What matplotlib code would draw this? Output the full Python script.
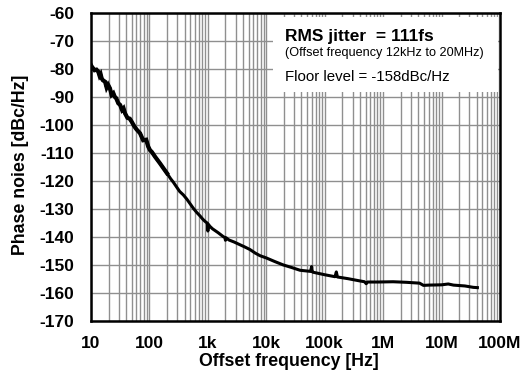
import numpy as np
import matplotlib.pyplot as plt
from matplotlib.ticker import FixedLocator, NullFormatter
from matplotlib.patches import Rectangle

plt.rcParams['font.family'] = ['Liberation Sans', 'DejaVu Sans']

freq = [10, 10.3, 11.5, 12.4, 13.3, 14.0, 14.6, 15.2, 16.0, 17.4, 18.5, 19.6,
        21.1, 22.5, 24.1, 25.5, 27.0, 29.3, 31.5, 34.0, 36.0, 38.2, 42.0,
        46.0, 49.7, 55.0, 60.0, 69.0, 78.0, 88.0, 95.0, 102, 110, 125, 151,
        175, 200, 230, 257, 292, 330, 380, 436, 494, 560, 640, 733, 820, 900,
        980, 1000, 1020, 1080, 1200, 1500, 1835, 1950, 2000, 2050, 2300,
        2800, 3550, 4300, 5250, 6500, 7810, 10000, 14000, 19500, 27000,
        37800, 57000, 59800, 61000, 63000, 100000, 150000, 158000, 165000,
        250000, 398000, 480000, 513000, 540000, 800000, 1480000, 2500000,
        4200000, 4900000, 6000000, 10000000, 13000000, 16000000, 25000000,
        34900000, 41000000]
noise = [-78.8, -79.3, -80.6, -80.4, -81.1, -82.6, -82.0, -83.5, -84.2, -84.7,
         -86.8, -85.8, -87.1, -89.4, -88.8, -90.1, -90.6, -92.4, -93.0, -94.8,
         -94.2, -96.0, -97.6, -97.9, -99.0, -100.6, -101.7, -103.1, -105.6,
         -105.4, -107.8, -109.1, -109.8, -111.5, -113.8, -115.7, -117.4,
         -119.3, -120.6, -122.3, -123.9, -125.1, -126.6, -128.2, -129.8,
         -131.3, -132.6, -133.8, -134.6, -135.2, -138.0, -135.6, -136.3,
         -137.2, -138.6, -140.0, -140.3, -141.3, -140.4, -141.2, -141.9,
         -142.9, -143.7, -144.6, -145.9, -146.8, -147.6, -148.9, -150.1,
         -151.0, -152.0, -152.4, -150.7, -152.5, -152.7, -153.6, -154.3,
         -152.6, -154.4, -155.0, -155.8, -156.1, -156.8, -156.2, -156.2,
         -156.1, -156.3, -156.6, -157.4, -157.3, -157.2, -156.9, -157.3,
         -157.6, -158.1, -158.2]
noisy_until = 200  # Hz, the band where the trace is visibly thicker

xticks = [10, 1e2, 1e3, 1e4, 1e5, 1e6, 1e7, 1e8]
xticklabels = ['10', '100', '1k', '10k', '100k', '1M', '10M', '100M']
yticks = list(range(-170, -59, 10))

fig = plt.figure(figsize=(5.21, 3.86), dpi=100)
ax = fig.add_axes([0.1747, 0.1692, 0.785, 0.7984])

ax.plot(freq, noise, color='black', linewidth=2.2, solid_joinstyle='round',
        zorder=4)
n_noisy = sum(f <= noisy_until for f in freq)
ax.plot(freq[:n_noisy], noise[:n_noisy], color='black', linewidth=3.0,
        solid_joinstyle='miter', zorder=4)

ax.set_xscale('log')
ax.set_xlim(10, 1e8)
ax.set_ylim(-170, -60)

minor = [m * 10 ** d for d in range(1, 8) for m in range(2, 10)]
ax.xaxis.set_major_locator(FixedLocator(xticks))
ax.xaxis.set_minor_locator(FixedLocator(minor))
ax.xaxis.set_minor_formatter(NullFormatter())
ax.set_xticklabels(xticklabels)
ax.set_yticks(yticks)
ax.set_yticklabels([str(v) for v in yticks])

ax.grid(True, which='both', axis='x', color='#8f8f8f', linewidth=1.0)
ax.grid(True, which='major', axis='y', color='#8f8f8f', linewidth=1.0)
ax.set_axisbelow(True)

ax.tick_params(which='both', length=0)
ax.tick_params(axis='x', pad=11, labelsize=12.5)
ax.tick_params(axis='y', pad=12, labelsize=12.5)
for lab in ax.get_xticklabels() + ax.get_yticklabels():
    lab.set_fontweight('bold')

for sp in ax.spines.values():
    sp.set_linewidth(1.8)
    sp.set_zorder(5)

# white box behind the annotation text
ax.add_patch(Rectangle((0.445, 0.742), 0.55, 0.243, transform=ax.transAxes,
                       facecolor='white', edgecolor='none', zorder=2))
ax.text(0.474, 0.9215, 'RMS jitter  = 111fs', transform=ax.transAxes,
        fontsize=12.5, fontweight='bold', va='center', zorder=3)
ax.text(0.474, 0.869, '(Offset frequency 12kHz to 20MHz)',
        transform=ax.transAxes, fontsize=9.1, va='center', zorder=3)
ax.text(0.474, 0.792, 'Floor level = -158dBc/Hz', transform=ax.transAxes,
        fontsize=10.8, va='center', zorder=3)

fig.text(0.555, 0.0622, 'Offset frequency [Hz]', fontsize=12.8,
         fontweight='bold', ha='center', va='center')
fig.text(0.0384, 0.5725, 'Phase noies [dBc/Hz]', fontsize=12.8,
         fontweight='bold', ha='center', va='center', rotation=90)

plt.savefig('out.png', dpi=100)
